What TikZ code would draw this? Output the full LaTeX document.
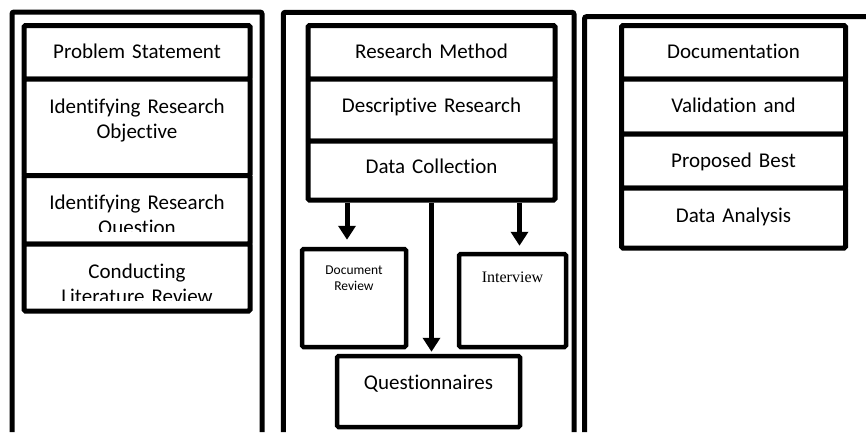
\documentclass[tikz,border=0pt]{standalone}
\usepackage{fontspec}
\setmainfont{Carlito}[Ligatures={NoCommon},WordSpace=0.85]
\newfontfamily\timesfont{Liberation Serif}
\usetikzlibrary{arrows.meta}

\begin{document}
\begin{tikzpicture}[x=1pt,y=-1pt,
  frame/.style={line width=5pt,rounded corners=2pt},
  stepbox/.style={draw,line width=5pt,fill=white,rounded corners=1.5pt,inner sep=0pt},
  steptext/.style={font=\fontsize{21}{25}\selectfont,align=center,text width=220pt,inner sep=0pt,anchor=base},
  flow/.style={line width=5pt,-{Triangle[length=14pt,width=17pt]}}]
%
\useasboundingbox (0,0) rectangle (866,432);
%
\draw[frame] (12,432) -- (12,12) -- (262,12) -- (262,432);
\draw[frame] (283.3,432) -- (283.3,12.3) -- (574,12.3) -- (574,432);
\draw[frame] (584.5,432) -- (584.5,16.7) -- (866,16.7);
%
\node[stepbox,minimum width=226pt,minimum height=53.5pt] (ps) at (137,52.25) {};
\node[steptext] (ps-t) at (137,58.5) {Problem Statement};
\node[stepbox,minimum width=226pt,minimum height=96.5pt] (ro) at (137,127.25) {};
\node[steptext] (ro-t) at (137,113) {Identifying Research\\Objective};
\node[stepbox,minimum width=226pt,minimum height=68.5pt] (rq) at (137,209.75) {};
\begin{scope}
\clip (24,175.5) rectangle (250,231);
\node[steptext] (rq-t) at (137,209) {Identifying Research\\Question};
\end{scope}
\node[stepbox,minimum width=226pt,minimum height=67pt] (lr) at (137,277.5) {};
\begin{scope}
\clip (24,244) rectangle (250,300);
\node[steptext] (lr-t) at (137,278) {Conducting\\Literature Review};
\end{scope}
%
\node[stepbox,minimum width=247pt,minimum height=53.5pt] (rm) at (431.5,52.25) {};
\node[steptext] (rm-t) at (431.5,58.5) {Research Method};
\node[stepbox,minimum width=247pt,minimum height=62pt] (dr) at (431.5,110) {};
\node[steptext] (dr-t) at (431.5,112) {Descriptive Research};
\node[stepbox,minimum width=247pt,minimum height=59pt] (dc) at (431.5,170.5) {};
\node[steptext] (dc-t) at (431.5,173) {Data Collection};
%
\node[stepbox,line width=4.5pt,minimum width=104pt,minimum height=98pt] (doc) at (354,298) {};
\node[font=\fontsize{13.5}{16}\selectfont,align=center,text width=90pt,inner sep=0pt,anchor=base] (doc-t) at (354,274) {Document\\Review};
\node[stepbox,line width=4.5pt,minimum width=107pt,minimum height=93pt] (iv) at (512.5,300.5) {};
\node[font=\timesfont\fontsize{16}{19}\selectfont,inner sep=0pt,anchor=base] (iv-t) at (512.5,282) {Interview};
\node[stepbox,line width=4.5pt,minimum width=183pt,minimum height=71pt] (qs) at (428.5,391.5) {};
\node[steptext] (qs-t) at (428.5,389) {Questionnaires};
%
\draw[flow] ([xshift=-7pt]doc.north |- dc.south) -- ([xshift=-7pt,yshift=7pt]doc.north);
\draw[flow] (dc.south) -- ([yshift=2pt]qs.north -| dc.south);
\draw[flow] ([xshift=7pt]iv.north |- dc.south) -- ([xshift=7pt,yshift=6pt]iv.north);
%
\node[stepbox,minimum width=224pt,minimum height=53.5pt] (dm) at (733.5,52.25) {};
\node[steptext] (dm-t) at (733.5,58.5) {Documentation};
\node[stepbox,minimum width=224pt,minimum height=55pt] (va) at (733.5,106.5) {};
\node[steptext] (va-t) at (733.5,112) {Validation and};
\node[stepbox,minimum width=224pt,minimum height=54pt] (pb) at (733.5,161) {};
\node[steptext] (pb-t) at (733.5,167) {Proposed Best};
\node[stepbox,minimum width=224pt,minimum height=60pt] (da) at (733.5,218) {};
\node[steptext] (da-t) at (733.5,222) {Data Analysis};
%
\end{tikzpicture}
\end{document}
